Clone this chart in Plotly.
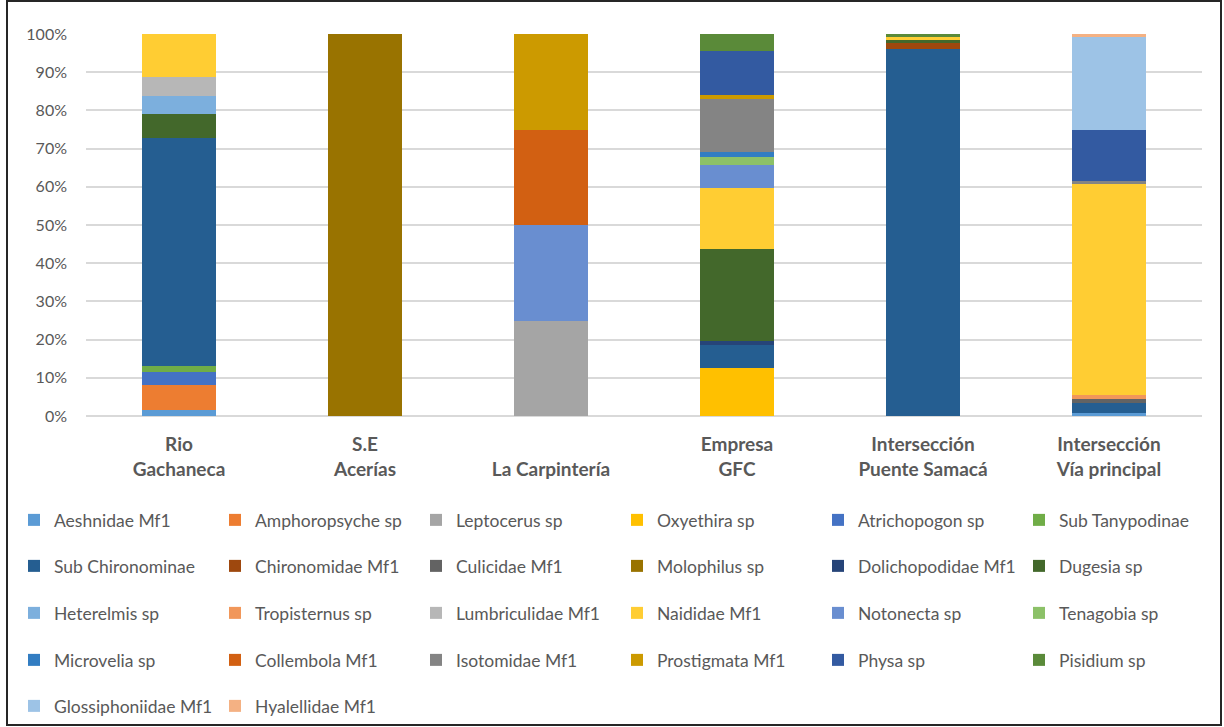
import plotly.graph_objects as go

# Sampling sites (x categories)
sites = ["Rio<br>Gachaneca", "S.E<br>Acerías", " <br>La Carpintería",
         "Empresa<br>GFC", "Intersección<br>Puente Samacá", "Intersección<br>Vía principal"]

# Taxa, in stacking / legend order
taxa = ["Aeshnidae Mf1", "Amphoropsyche sp", "Leptocerus sp", "Oxyethira sp",
        "Atrichopogon sp", "Sub Tanypodinae", "Sub Chironominae", "Chironomidae Mf1",
        "Culicidae Mf1", "Molophilus sp", "Dolichopodidae Mf1", "Dugesia sp",
        "Heterelmis sp", "Tropisternus sp", "Lumbriculidae Mf1", "Naididae Mf1",
        "Notonecta sp", "Tenagobia sp", "Microvelia sp", "Collembola Mf1",
        "Isotomidae Mf1", "Prostigmata Mf1", "Physa sp", "Pisidium sp",
        "Glossiphoniidae Mf1", "Hyalellidae Mf1"]

# Relative abundance (%) per site, in the order of `sites`
aeshnidae       = [1.6, 0, 0, 0, 0, 0.8]
amphoropsyche   = [6.5, 0, 0, 0, 0, 0]
leptocerus      = [0, 0, 25, 0, 0, 0]
oxyethira       = [0, 0, 0, 12.6, 0, 0]
atrichopogon    = [3.3, 0, 0, 0, 0, 0]
sub_tanypodinae = [1.6, 0, 0, 0, 0, 0]
sub_chironom    = [59.7, 0, 0, 6.0, 96.1, 2.6]
chironomidae    = [0, 0, 0, 0, 1.5, 0]
culicidae       = [0, 0, 0, 0, 0, 1.1]
molophilus      = [0, 100, 0, 0, 0, 0]
dolichopodidae  = [0, 0, 0, 1.1, 0, 0]
dugesia         = [6.3, 0, 0, 24.0, 0.8, 0]
heterelmis      = [4.9, 0, 0, 0, 0, 0]
tropisternus    = [0, 0, 0, 0, 0, 1.0]
lumbriculidae   = [4.8, 0, 0, 0, 0, 0]
naididae        = [11.3, 0, 0, 16.0, 0.8, 55.2]
notonecta       = [0, 0, 25, 6.0, 0, 0]
tenagobia       = [0, 0, 0, 2.2, 0, 0]
microvelia      = [0, 0, 0, 1.1, 0, 0]
collembola      = [0, 0, 25, 0, 0, 0]
isotomidae      = [0, 0, 0, 14.0, 0, 0.9]
prostigmata     = [0, 0, 25, 1.1, 0, 0]
physa           = [0, 0, 0, 11.5, 0, 13.2]
pisidium        = [0, 0, 0, 4.4, 0.8, 0]
glossiphoniidae = [0, 0, 0, 0, 0, 24.4]
hyalellidae     = [0, 0, 0, 0, 0, 0.8]

# Percentage axis ticks
y_ticks = [0, 10, 20, 30, 40, 50, 60, 70, 80, 90, 100]
y_tick_labels = ["0%", "10%", "20%", "30%", "40%", "50%", "60%", "70%", "80%", "90%", "100%"]

values = [aeshnidae, amphoropsyche, leptocerus, oxyethira, atrichopogon,
          sub_tanypodinae, sub_chironom, chironomidae, culicidae, molophilus,
          dolichopodidae, dugesia, heterelmis, tropisternus, lumbriculidae,
          naididae, notonecta, tenagobia, microvelia, collembola, isotomidae,
          prostigmata, physa, pisidium, glossiphoniidae, hyalellidae]

colors = ["#5B9BD5", "#ED7D31", "#A5A5A5", "#FFC000", "#4472C4", "#70AD47",
          "#255E91", "#9E480E", "#636363", "#997300", "#264478", "#43682B",
          "#7CAFDD", "#F1975A", "#B7B7B7", "#FFCD33", "#698ED0", "#8CC168",
          "#327DC2", "#D26012", "#848484", "#CC9A00", "#335AA1", "#5A8A39",
          "#9DC3E6", "#F4B183"]

FONT = "Lato"
GREY = "#595959"

# Figure geometry (pixels)
W, H = 1224, 727
L, R, T, B = 86, 22, 34, 311
pw, ph = W - L - R, H - T - B

def px_x(x):
    return (x - L) / pw

def px_y(y):
    return (H - B - y) / ph

legend_ids = ["legend", "legend2", "legend3", "legend4", "legend5"]

fig = go.Figure()
for i, (name, vals, col) in enumerate(zip(taxa, values, colors)):
    fig.add_trace(go.Bar(
        x=sites, y=vals, name=name, marker=dict(color=col, line=dict(width=0)),
        legend=legend_ids[i // 6],
    ))

row_y = [520, 566, 613, 660, 706]
legend_layout = {}
for k, lid in enumerate(legend_ids):
    legend_layout[lid] = dict(
        orientation="h", x=px_x(14), xanchor="left",
        y=px_y(row_y[k]), yanchor="middle",
        entrywidth=156, entrywidthmode="pixels",
        font=dict(family=FONT, size=17.5, color=GREY),
        bgcolor="rgba(0,0,0,0)", itemwidth=30, traceorder="normal",
    )

fig.update_layout(
    width=W, height=H, barmode="stack", bargap=0.6,
    margin=dict(l=L, r=R, t=T, b=B, autoexpand=False),
    paper_bgcolor="white", plot_bgcolor="white",
    font=dict(family=FONT, color=GREY),
    showlegend=True,
    **legend_layout,
)
fig.update_xaxes(
    tickfont=dict(family=FONT, size=19, color=GREY, weight="bold"),
    showgrid=False, showline=False, ticks="", ticklabelstandoff=15,
)
fig.update_yaxes(
    range=[0, 100], tickmode="array", tickvals=y_ticks, ticktext=y_tick_labels,
    tickfont=dict(family=FONT, size=16, color=GREY),
    showgrid=True, gridcolor="#D9D9D9", gridwidth=1.5,
    zeroline=True, zerolinecolor="#D9D9D9", zerolinewidth=1.5,
    showline=False, ticks="", ticklabelstandoff=18,
)

# Chart frame
fig.add_shape(type="rect", xref="paper", yref="paper",
              x0=px_x(7), x1=px_x(1221), y0=px_y(725), y1=px_y(1),
              line=dict(color="#262626", width=2), fillcolor="rgba(0,0,0,0)",
              layer="above")

fig.write_html("out.html")
